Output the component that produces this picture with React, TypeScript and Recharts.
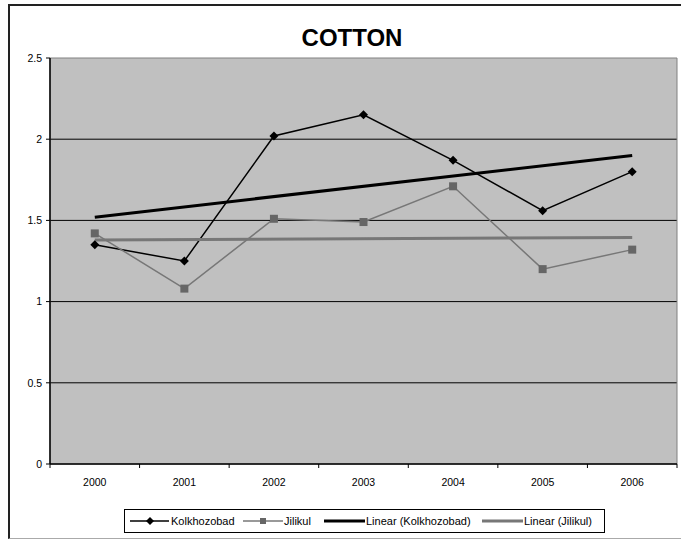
import React from "react";
import {
  LineChart,
  Line,
  XAxis,
  YAxis,
  CartesianGrid,
  ReferenceArea,
} from "recharts";

const years = [2000, 2001, 2002, 2003, 2004, 2005, 2006];
const kolkhozobad = [1.35, 1.25, 2.02, 2.15, 1.87, 1.56, 1.8];
const jilikul = [1.42, 1.08, 1.51, 1.49, 1.71, 1.2, 1.32];
// trendline ends (Excel draws them)
const kolkhozobadTrend = [1.52, null, null, null, null, null, 1.9];
const jilikulTrend = [1.38, null, null, null, null, null, 1.395];
const yTicks = [0, 0.5, 1, 1.5, 2, 2.5];
const gridValues = [0.5, 1, 1.5, 2];
const seriesNames = [
  "Kolkhozobad",
  "Jilikul",
  "Linear (Kolkhozobad)",
  "Linear (Jilikul)",
];

const data = years.map((year, i) => ({
  year,
  k: kolkhozobad[i],
  j: jilikul[i],
  kT: kolkhozobadTrend[i],
  jT: jilikulTrend[i],
}));

const FONT = "'Liberation Sans', Arial, sans-serif";
const HALF_BAND = 627 / 14;

function Diamond(props: any) {
  const { cx, cy } = props;
  if (cx == null || cy == null) return null;
  const r = 4.5;
  return (
    <polygon
      points={`${cx},${cy - r} ${cx + r},${cy} ${cx},${cy + r} ${cx - r},${cy}`}
      fill="#000"
    />
  );
}

function Square(props: any) {
  const { cx, cy } = props;
  if (cx == null || cy == null) return null;
  return <rect x={cx - 4} y={cy - 4} width={8} height={8} fill="#666" />;
}

function YearTick(props: any) {
  const { x, y, payload, index } = props;
  return (
    <g>
      <text
        x={x}
        y={y + 22}
        textAnchor="middle"
        fontSize={10.5}
        fontFamily={FONT}
        fill="#000"
      >
        {payload.value}
      </text>
      <line x1={x + HALF_BAND} y1={y} x2={x + HALF_BAND} y2={y + 4} stroke="#000" />
      {index === 0 && (
        <line x1={x - HALF_BAND} y1={y} x2={x - HALF_BAND} y2={y + 4} stroke="#000" />
      )}
    </g>
  );
}

function LegendBox() {
  return (
    <svg
      width={481}
      height={24}
      style={{ position: "absolute", left: 124, top: 509 }}
    >
      <rect x={0.5} y={0.5} width={480} height={23} fill="#fff" stroke="#000" />
      <g fontFamily={FONT} fontSize={11} fill="#000">
        <line x1={6} y1={12} x2={45} y2={12} stroke="#000" strokeWidth={1.5} />
        <polygon points="26,8 30,12 26,16 22,12" fill="#000" />
        <text x={47} y={16}>{seriesNames[0]}</text>

        <line x1={119} y1={12} x2={159} y2={12} stroke="#777" strokeWidth={1.5} />
        <rect x={136} y={9} width={6} height={6} fill="#666" />
        <text x={160} y={16}>{seriesNames[1]}</text>

        <line x1={200} y1={12} x2={241} y2={12} stroke="#000" strokeWidth={3} />
        <text x={242} y={16}>{seriesNames[2]}</text>

        <line x1={358} y1={12} x2={399} y2={12} stroke="#777" strokeWidth={3} />
        <text x={400} y={16}>{seriesNames[3]}</text>
      </g>
    </svg>
  );
}

export default function App() {
  return (
    <div
      style={{
        position: "absolute",
        left: 0,
        top: 0,
        width: 681,
        height: 541,
        overflow: "hidden",
        background: "#fff",
      }}
    >
      <div
        style={{
          position: "absolute",
          left: 8,
          top: 4,
          width: 700,
          height: 535,
          borderLeft: "2px solid #222",
          borderTop: "2px solid #222",
          borderBottom: "1px solid #aaa",
          boxSizing: "border-box",
        }}
      />
      <div
        style={{
          position: "absolute",
          left: 252,
          top: 26,
          width: 200,
          textAlign: "center",
          fontFamily: FONT,
          fontWeight: "bold",
          fontSize: 24,
          lineHeight: "24px",
        }}
      >
        COTTON
      </div>
      <div style={{ position: "absolute", left: 0, top: 0 }}>
        <LineChart
          width={681}
          height={541}
          data={data}
          margin={{ top: 58, right: 4, left: 10, bottom: 47 }}
        >
          <CartesianGrid
            fill="#C0C0C0"
            vertical={false}
            stroke="#000"
            horizontalValues={gridValues}
          />
          <ReferenceArea
            x1={1999.5}
            x2={2006.5}
            y1={0}
            y2={2.5}
            fill="none"
            stroke="#808080"
            fillOpacity={0}
          />
          <XAxis
            dataKey="year"
            type="number"
            domain={[1999.5, 2006.5]}
            ticks={years}
            interval={0}
            height={30}
            tickSize={0}
            tickMargin={0}
            tickLine={false}
            tick={<YearTick />}
            axisLine={{ stroke: "#000", strokeWidth: 1.5 }}
          />
          <YAxis
            domain={[0, 2.5]}
            ticks={yTicks}
            width={40}
            tickSize={4}
            tickMargin={4}
            tick={{ fontSize: 10.5, fontFamily: FONT, fill: "#000" }}
            tickLine={{ stroke: "#000" }}
            axisLine={{ stroke: "#000", strokeWidth: 1.5 }}
          />
          <Line
            dataKey="k"
            name={seriesNames[0]}
            stroke="#000"
            strokeWidth={1.5}
            dot={<Diamond />}
            isAnimationActive={false}
          />
          <Line
            dataKey="j"
            name={seriesNames[1]}
            stroke="#777"
            strokeWidth={1.5}
            dot={<Square />}
            isAnimationActive={false}
          />
          <Line
            dataKey="kT"
            name={seriesNames[2]}
            stroke="#000"
            strokeWidth={3}
            dot={false}
            connectNulls
            isAnimationActive={false}
          />
          <Line
            dataKey="jT"
            name={seriesNames[3]}
            stroke="#777"
            strokeWidth={3}
            dot={false}
            connectNulls
            isAnimationActive={false}
          />
        </LineChart>
      </div>
      <LegendBox />
    </div>
  );
}
